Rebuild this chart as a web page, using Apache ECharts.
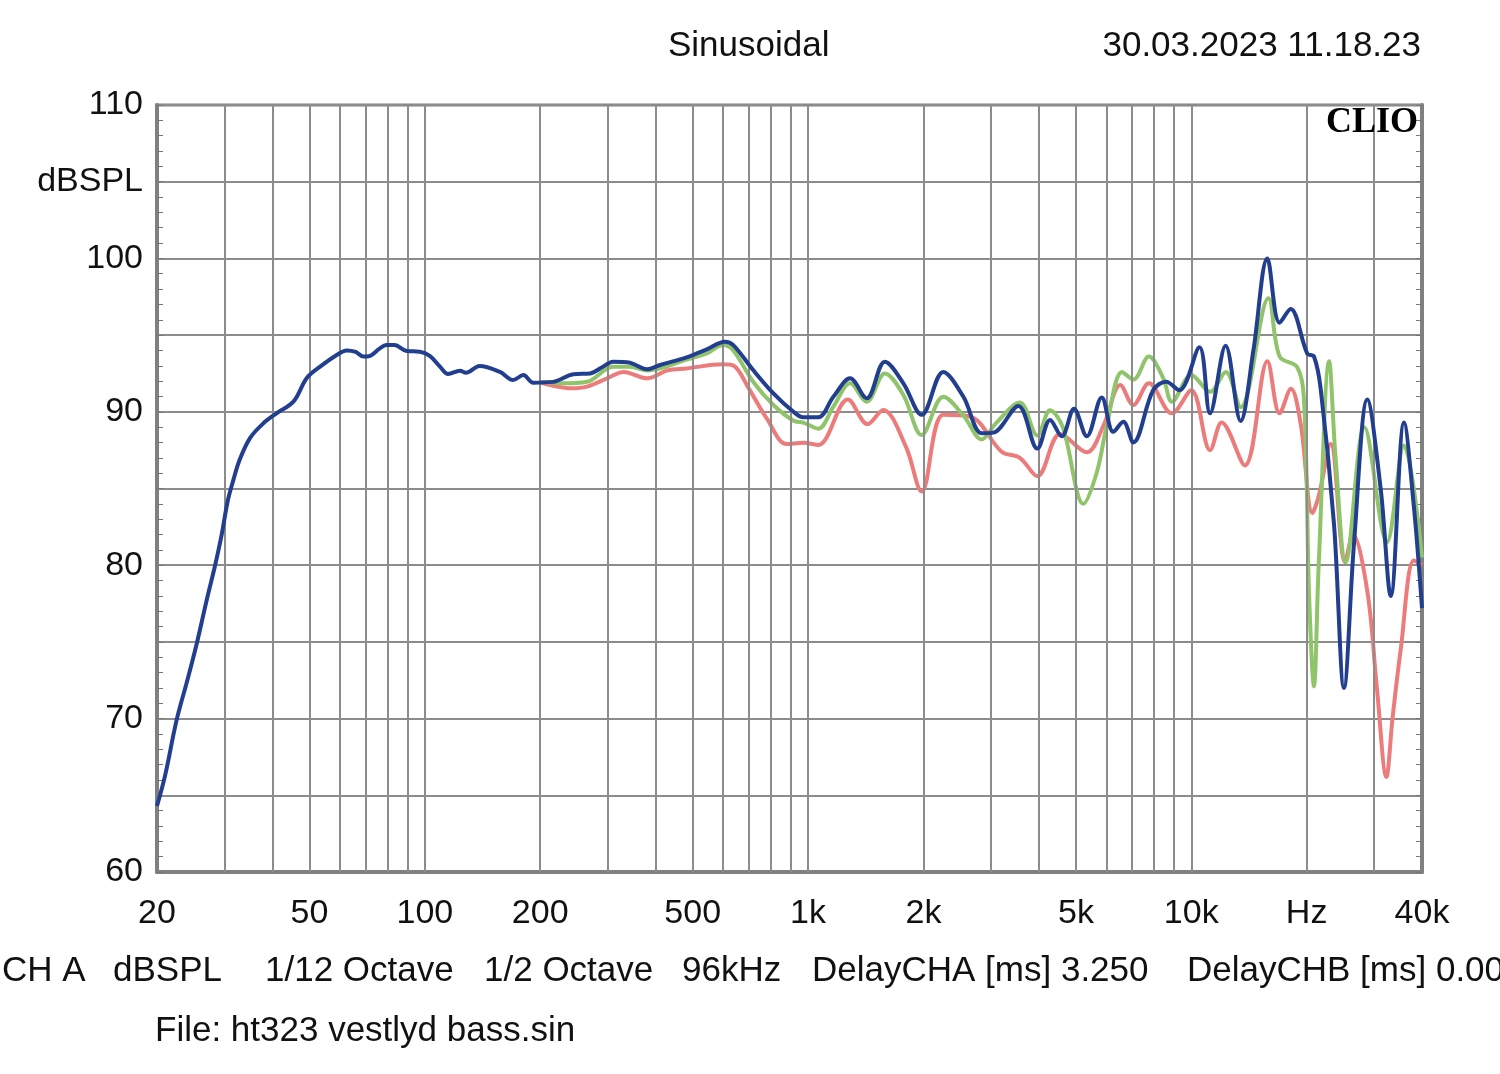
<!DOCTYPE html>
<html>
<head>
<meta charset="utf-8">
<script src="https://cdn.jsdelivr.net/npm/echarts@6/dist/echarts.min.js"></script>
<style>
html,body{margin:0;padding:0;background:#fff;}
#chart{width:1500px;height:1074px;}
</style>
</head>
<body>
<div id="chart"></div>
<script>
// ---- data (frequency in Hz, level in dBSPL) ----
const blueFreq = [20,21,22.5,24,25.4,27,28.3,29.5,30.6,31.6,32.9,35,37.9,41,45.4,49.2,53.3,58.9,62.5,66,69.1,72,76,79.5,83.3,89.7,97,103,109.5,115,123.5,128,139,157,170,180.7,191.8,216,244,270,290,310,343,380,411,482,544,607,638,719,812,916,972,1063,1164,1287,1422,1587,1773,1979,2254,2543,2839,3044,3537,3965,4281,4592,4944,5337,5840,6260,6647,7059,7950,8600,9300,10500,11194,12290,13450,14523,15790,17000,18160,20080,20900,21760,23570,25030,26600,28800,31200,33160,35900,38100,40000];
const blueDb = [64.3,66.3,69.9,72.5,74.9,77.8,79.9,82.0,84.2,85.5,86.9,88.3,89.25,89.9,90.66,92.2,92.94,93.7,94.0,93.9,93.6,93.65,94.1,94.35,94.35,93.96,93.92,93.64,92.94,92.46,92.68,92.55,92.99,92.6,92.07,92.4,91.9,91.95,92.45,92.5,92.9,93.27,93.2,92.77,93.05,93.55,94.07,94.57,94.35,92.72,91.2,90.0,89.64,89.64,90.98,92.18,90.88,93.27,91.86,89.8,92.6,90.98,88.6,88.64,90.38,87.6,89.47,88.4,90.2,88.4,90.94,88.7,89.35,88.0,91.4,91.96,91.4,94.2,89.9,94.3,89.4,94.0,100.0,95.8,96.7,93.8,93.6,91.5,82.7,72.0,81.5,90.8,85.0,78.0,89.3,83.8,77.2];

const greenFreq = [200,216,230,265,310,343,380,482,544,600,638,719,812,916,972,1063,1164,1287,1422,1587,1773,1979,2254,2543,2840,3080,3570,3965,4280,4620,5230,5670,6020,6600,7060,7750,8450,8900,10000,11200,12300,13450,15900,17000,18900,19700,20300,20900,21500,22900,23800,25300,28300,32400,35900,40000];
const greenDb = [91.95,91.9,91.86,91.96,92.94,92.94,92.7,93.4,93.8,94.35,94.0,91.96,90.44,89.42,89.3,88.9,90.33,91.86,90.66,92.5,91.1,88.49,90.98,89.76,88.2,89.2,90.6,88.45,90.1,89.0,84.0,86.06,89.1,92.6,92.1,93.6,92.2,90.66,92.4,91.3,92.6,90.3,97.4,93.6,92.9,90.6,78.0,72.1,80.0,93.3,87.0,80.2,89.0,81.5,87.8,80.5];

const redFreq = [200,216,240,265,300,330,380,430,482,600,640,700,780,880,972,1063,1270,1430,1570,1800,1979,2254,2650,3200,3570,3965,4550,5340,5900,6530,7060,7750,8900,10000,11200,12000,13800,15800,17000,18200,19300,20700,21500,23100,25200,26400,28800,30500,32300,33500,35200,38100,40000];
const redDb = [91.9,91.7,91.53,91.64,92.2,92.6,92.18,92.7,92.83,93.1,93.0,91.53,89.57,87.9,87.99,87.84,90.8,89.2,90.12,87.73,84.8,89.8,89.68,87.4,87.0,85.8,88.56,87.36,89.1,91.75,90.44,91.86,89.9,91.4,87.5,89.3,86.5,93.3,89.9,91.5,89.2,83.4,84.5,87.9,80.2,82.0,78.3,72.0,66.2,70.0,74.5,80.3,80.0];

const xTickValues = [20,50,100,200,500,1000,2000,5000,10000,20000,40000];
const xTickLabels = ['20','50','100','200','500','1k','2k','5k','10k','Hz','40k'];
const xGridValues = [30,40,50,60,70,80,90,100,200,300,400,500,600,700,800,900,1000,2000,3000,4000,5000,6000,7000,8000,9000,10000,20000,30000];

const FONT = 'Liberation Sans, Arial, sans-serif';
const zip = (f, d) => f.map((v, i) => [v, d[i]]);

const chart = echarts.init(document.getElementById('chart'));
const yCommon = {
  type: 'value', min: 60, max: 110, interval: 5,
  axisTick: { show: true, inside: true, length: 6, lineStyle: { color: '#777', width: 1 } },
  minorTick: { show: true, splitNumber: 5, length: 6, lineStyle: { color: '#777', width: 1 } },
};
const txt = (left, top, text, size) => ({ type: 'text', left, top, style: { text, font: size + 'px ' + FONT, fill: '#111' } });
chart.setOption({
  animation: false,
  backgroundColor: '#ffffff',
  grid: { left: 157, top: 105, width: 1265, height: 767, show: true, borderColor: '#808080', borderWidth: 3, backgroundColor: 'transparent' },
  xAxis: {
    type: 'log', logBase: 10, min: 20, max: 40000,
    axisLine: { show: true, lineStyle: { color: '#808080', width: 4 } },
    axisTick: { show: false, customValues: xTickValues },
    splitLine: { show: false },
    axisLabel: {
      customValues: xTickValues,
      formatter: v => { const i = xTickValues.indexOf(Math.round(v)); return i >= 0 ? xTickLabels[i] : ''; },
      fontFamily: FONT, fontSize: 34, color: '#111', margin: 25, showMinLabel: true, showMaxLabel: true
    }
  },
  yAxis: [
    Object.assign({}, yCommon, {
      position: 'left',
      axisLine: { show: true, lineStyle: { color: '#808080', width: 4 } },
      splitLine: { show: true, lineStyle: { color: '#8c8c8c', width: 2 } },
      axisLabel: {
        fontFamily: FONT, fontSize: 34, color: '#111', margin: 14,
        formatter: v => v === 105 ? 'dBSPL' : (v % 10 === 0 ? String(v) : '')
      }
    }),
    Object.assign({}, yCommon, {
      position: 'right',
      axisLine: { show: true, lineStyle: { color: '#808080', width: 4 } },
      splitLine: { show: false },
      axisLabel: { show: false }
    })
  ],
  series: [
    {
      type: 'line', data: [], z: 1, silent: true,
      markLine: {
        silent: true, symbol: 'none', animation: false,
        label: { show: false },
        lineStyle: { color: '#8c8c8c', width: 2, type: 'solid' },
        data: xGridValues.map(v => ({ xAxis: v }))
      }
    },
    { name: 'red', type: 'line', data: zip(redFreq, redDb), showSymbol: false, smooth: 0.35, z: 3,
      lineStyle: { color: '#ec7b7b', width: 4 }, itemStyle: { color: '#ec7b7b' } },
    { name: 'green', type: 'line', data: zip(greenFreq, greenDb), showSymbol: false, smooth: 0.35, z: 4,
      lineStyle: { color: '#8fc46b', width: 4 }, itemStyle: { color: '#8fc46b' } },
    { name: 'blue', type: 'line', data: zip(blueFreq, blueDb), showSymbol: false, smooth: 0.35, z: 5,
      lineStyle: { color: '#213e8f', width: 4 }, itemStyle: { color: '#213e8f' } }
  ],
  graphic: [
    txt(668, 29, 'Sinusoidal', 35),
    { type: 'text', right: 79, top: 29, style: { text: '30.03.2023 11.18.23', font: '35px ' + FONT, fill: '#111' } },
    { type: 'text', right: 82, top: 105, z: 10, style: { text: 'CLIO', font: 'bold 36px "Liberation Serif", "Times New Roman", serif', fill: '#000' } },
    txt(2, 954, 'CH A', 35),
    txt(113, 954, 'dBSPL', 35),
    txt(265, 954, '1/12 Octave', 35),
    txt(484, 954, '1/2 Octave', 35),
    txt(682, 954, '96kHz', 35),
    txt(812, 954, 'DelayCHA [ms] 3.250', 35),
    txt(1187, 954, 'DelayCHB [ms] 0.000', 35),
    txt(155, 1014, 'File: ht323 vestlyd bass.sin', 35)
  ]
});
</script>
</body>
</html>
